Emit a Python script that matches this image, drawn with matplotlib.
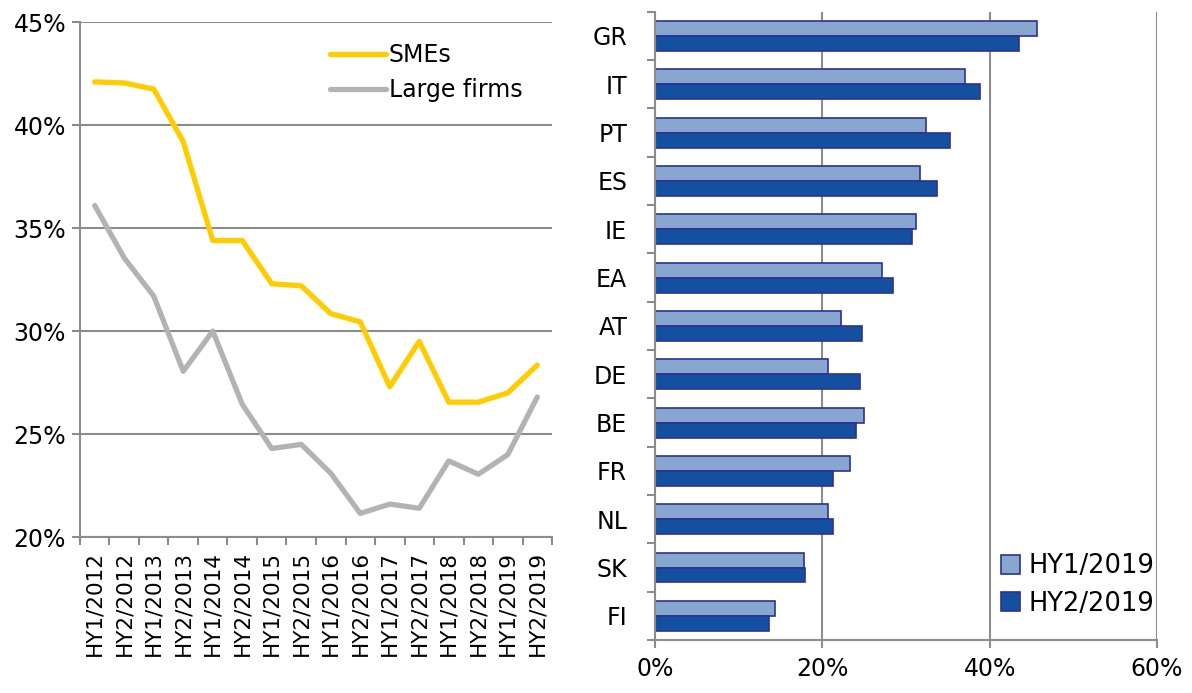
import matplotlib.pyplot as plt
import numpy as np
from matplotlib.ticker import FixedLocator

# left panel: share of firms, half-years
periods = ["HY1/2012", "HY2/2012", "HY1/2013", "HY2/2013", "HY1/2014", "HY2/2014",
           "HY1/2015", "HY2/2015", "HY1/2016", "HY2/2016", "HY1/2017", "HY2/2017",
           "HY1/2018", "HY2/2018", "HY1/2019", "HY2/2019"]
smes = [42.1, 42.05, 41.75, 39.2, 34.4, 34.4, 32.3, 32.2,
        30.85, 30.45, 27.3, 29.5, 26.55, 26.55, 27.0, 28.35]
large_firms = [36.1, 33.55, 31.7, 28.05, 30.0, 26.45, 24.3, 24.5,
               23.1, 21.15, 21.6, 21.4, 23.7, 23.05, 24.0, 26.8]

# right panel: countries
countries = ["GR", "IT", "PT", "ES", "IE", "EA", "AT", "DE", "BE", "FR", "NL", "SK", "FI"]
hy1_2019 = [45.7, 37.05, 32.45, 31.7, 31.15, 27.1, 22.2, 20.7, 25.0, 23.25, 20.7, 17.8, 14.3]
hy2_2019 = [43.45, 38.85, 35.3, 33.75, 30.7, 28.4, 24.8, 24.55, 24.05, 21.25, 21.25, 17.9, 13.6]

plt.rcParams['font.family'] = ['DejaVu Sans']
grid_col = "#8c8c8c"

fig = plt.figure(figsize=(11.92, 6.93), dpi=100)

# ---- left chart
ax1 = fig.add_axes([0.0671, 0.225, 0.396, 0.743])
x = np.arange(len(periods))
ax1.plot(x, smes, color="#ffcc00", lw=3.8, label="SMEs", solid_capstyle="round")
ax1.plot(x, large_firms, color="#b3b3b3", lw=3.8, label="Large firms", solid_capstyle="round")
ax1.set_xlim(-0.5, len(periods) - 0.5)
ax1.set_ylim(20, 45)
ax1.set_yticks([20, 25, 30, 35, 40, 45])
ax1.set_yticklabels([f"{v}%" for v in [20, 25, 30, 35, 40, 45]], fontsize=17)
ax1.yaxis.grid(True, color=grid_col, lw=1.5)
ax1.set_axisbelow(True)
ax1.set_xticks(x)
ax1.set_xticklabels(periods, rotation=90, fontsize=15.5)
ax1.xaxis.set_minor_locator(FixedLocator(np.arange(-0.5, len(periods), 1)))
ax1.tick_params(axis="x", which="major", length=0, pad=10)
ax1.tick_params(axis="x", which="minor", length=6, width=1.5, color=grid_col)
ax1.tick_params(axis="y", length=6, width=1.5, color=grid_col, pad=4)
for s in ["top", "right"]:
    ax1.spines[s].set_visible(False)
for s in ["left", "bottom"]:
    ax1.spines[s].set_color(grid_col)
    ax1.spines[s].set_linewidth(1.5)
ax1.legend(loc="upper right", frameon=False, fontsize=17, handlelength=2.4,
           handletextpad=0.1, labelspacing=0.45, bbox_to_anchor=(0.982, 1.0))

# ---- right chart
ax2 = fig.add_axes([0.5495, 0.0765, 0.4211, 0.9065])
y = np.arange(len(countries))
h = 0.31
ax2.barh(y - h / 2, hy1_2019, height=h, color="#87a6d0", edgecolor="#2e3192",
         lw=1.2, label="HY1/2019")
ax2.barh(y + h / 2, hy2_2019, height=h, color="#1450a0", edgecolor="#2e3192",
         lw=1.2, label="HY2/2019")
ax2.set_xlim(0, 60)
ax2.set_ylim(len(countries) - 0.5, -0.5)
ax2.set_xticks([0, 20, 40, 60])
ax2.set_xticklabels(["0%", "20%", "40%", "60%"], fontsize=17)
ax2.xaxis.grid(True, color=grid_col, lw=1.5)
ax2.set_axisbelow(True)
ax2.set_yticks(y)
ax2.set_yticklabels(countries, fontsize=17)
ax2.yaxis.set_minor_locator(FixedLocator(np.arange(-0.5, len(countries), 1)))
ax2.tick_params(axis="y", which="major", length=0, pad=20)
ax2.tick_params(axis="y", which="minor", length=6, width=1.5, color=grid_col)
ax2.tick_params(axis="x", length=6, width=1.5, color=grid_col, pad=6)
for s in ["top", "right"]:
    ax2.spines[s].set_visible(False)
for s in ["left", "bottom"]:
    ax2.spines[s].set_color(grid_col)
    ax2.spines[s].set_linewidth(1.5)
ax2.legend(loc="lower right", frameon=False, fontsize=18.5, handlelength=0.75,
           handleheight=0.75, handletextpad=0.3, labelspacing=0.45,
           bbox_to_anchor=(1.04, 0.0))

fig.savefig("out.png", dpi=100)
